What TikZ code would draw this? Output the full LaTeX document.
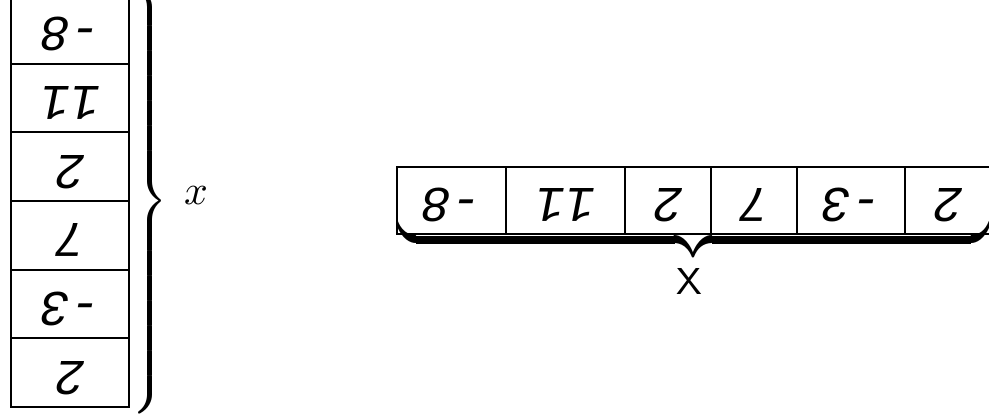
\documentclass[tikz,border=0pt]{standalone}
\usepackage{amsmath,amssymb}
\usepackage{fontspec}
\usepackage{tikz}
\newfontfamily\cellfont{Liberation Mono}

\begin{document}
\begin{tikzpicture}[x=0.24pt,y=-0.24pt,
    colcell/.style={draw, line width=0.5pt, minimum width=28.32pt, minimum height=16.48pt,
      inner sep=0pt, rotate=180, font=\cellfont\itshape\fontsize{12}{14}\selectfont},
    rowcell/.style={draw, line width=0.5pt, minimum height=16.08pt,
      inner sep=0pt, rotate=180, font=\cellfont\itshape\fontsize{12}{14}\selectfont}]
    \clip (0,0) rectangle (989,418);

    % the column
    \node[colcell] (c1) at (70,29.3) {\strut -8};
    \node[colcell] (c2) at (70,98) {\strut 11};
    \node[colcell] (c3) at (70,166.7) {\strut 2};
    \node[colcell] (c4) at (70,235.3) {\strut 7};
    \node[colcell] (c5) at (70,304) {\strut -3};
    \node[colcell] (c6) at (70,372.7) {\strut 2};

    \node[inner sep=0pt, anchor=east] (ybrace) at (169,201)
      {$\delimiterfactor=1000 \delimitershortfall=0pt
        \left.\vcenter{\hbox{\rule{0pt}{98.9pt}}}\right\}$};
    \node (yname) at (196,196) {$x$};

    % the row
    \node[rowcell, minimum width=26.16pt] (r1) at (451.5,200.5) {\strut -8};
    \node[rowcell, minimum width=28.56pt] (r2) at (565.5,200.5) {\strut 11};
    \node[rowcell, minimum width=20.64pt] (r3) at (668,200.5) {\strut 2};
    \node[rowcell, minimum width=20.64pt] (r4) at (754,200.5) {\strut 7};
    \node[rowcell, minimum width=25.92pt] (r5) at (851,200.5) {\strut -3};
    \node[rowcell, minimum width=20.64pt] (r6) at (948,200.5) {\strut 2};

    \node[inner sep=0pt, anchor=north] (xbrace) at (693.5,235)
      {\scalebox{1}[1.6]{\hbox to 142.3pt{\upbracefill}}};
    \node[font=\small\sffamily] (xname) at (689.5,281) {X};
\end{tikzpicture}
\end{document}
